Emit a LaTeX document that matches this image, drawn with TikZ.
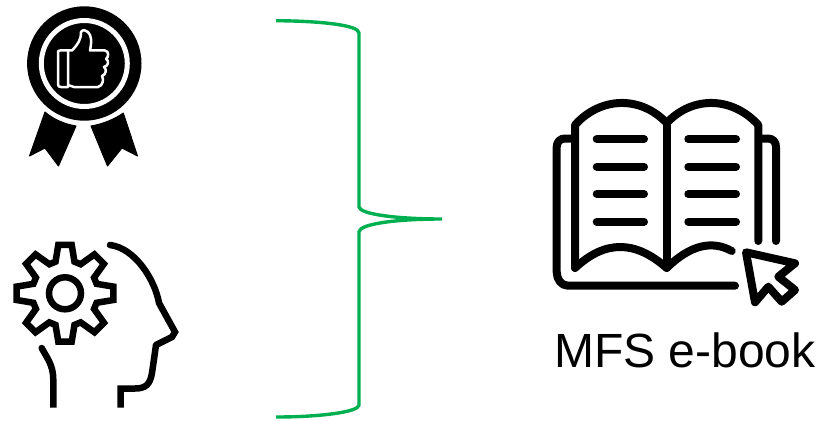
\documentclass[tikz,border=0pt]{standalone}
\usepackage{fontspec}
\setmainfont{Liberation Sans}
\definecolor{bracegreen}{HTML}{00B050}
\tikzset{
  bracecurve/.style={draw=bracegreen,line width=3.4pt},
  iconline/.style={draw=black,line width=6.5pt,line join=miter},
  bookline/.style={draw=black,line width=8pt,line cap=round,line join=round},
  thumbline/.style={draw=white,line width=2.5pt,line join=round,line cap=round},
}
\begin{document}
\begin{tikzpicture}[x=1pt,y=-1pt]
\useasboundingbox (0,0) rectangle (818,420);
% brace
\draw[bracecurve] (276,20.7) .. controls (320,21) and (359,25) .. (359,33)
  -- (359,207) .. controls (360,214) and (395,219) .. (442,219)
  .. controls (395,219) and (360,224) .. (359,231.7)
  -- (359,405) .. controls (359,412) and (320,417) .. (276,417);
% medal
\fill (84.3,63.5) circle (57.2);
\draw[white,line width=5pt] (84.3,63.5) circle (43);
\fill[line join=round,draw=black,line width=1pt] (45,112) -- (29.5,156) -- (45,148) -- (58.5,166) -- (76,126) .. controls (64,124) and (53,119) .. (45,112) -- cycle;
\fill[line join=round,draw=black,line width=1pt] (123.3,113) -- (137.5,156) -- (122,148) -- (107.5,166) -- (91,126) .. controls (103,124) and (115,119) .. (123.3,113) -- cycle;
\draw[thumbline] (68,50.5) -- (60,50.5) .. controls (58,50.5) and (58,51) .. (58,53) -- (58,84) .. controls (58,86.5) and (59,87) .. (61,87) -- (68,87) -- cycle;
\draw[thumbline] (68,50.5) -- (72,50.5) .. controls (78,44) and (81,40) .. (81,32) .. controls (82,29) and (88,30) .. (90,35) .. controls (92,40) and (91,45) .. (90,50.5)
  -- (105,50.5) .. controls (109,51) and (109,57) .. (106,59) .. controls (109,60) and (109,66) .. (104,67) .. controls (107,69) and (106,75) .. (102,76) .. controls (104,79) and (103,86) .. (98,87) -- (74,87) -- (68,85);
% gear
\draw[iconline,shift={(65,293.3)}] (-16.7:33)
  \foreach \a in {0,45,...,315} {
    -- ({\a-16.7}:33) -- ({\a-7.9}:48.8) -- ({\a+7.9}:48.8) -- ({\a+16.7}:33)
  } -- cycle;
\draw[iconline] (65,293.3) circle (16);
% head
\draw[iconline,line cap=round] (110,245) .. controls (135,248) and (155,280) .. (159,303) -- (175,332) -- (172,337) -- (156,345);
\draw[iconline] (156,345) -- (152,373) .. controls (150,385) and (145,388.5) .. (135,388.5) -- (120.7,388.5) -- (120.7,407.5);
\draw[iconline,line cap=butt] (53.3,407.5) -- (53.3,380) .. controls (53.3,365) and (47,358) .. (41.7,348);
\fill (41.7,348) circle (3.25);
% book
\draw[bookline] (575,268) -- (575,125) .. controls (600,97) and (640,95) .. (666.7,123) .. controls (693,95) and (733,97) .. (758.3,125) -- (758.3,241);
\draw[bookline] (666.7,123) -- (666.7,268);
\draw[bookline] (575,268) .. controls (605,240) and (635,240) .. (666.7,268) .. controls (690,245) and (712,240) .. (731.7,251);
\draw[bookline] (571,138.5) -- (565,138.5) .. controls (560,138.5) and (556.7,142) .. (556.7,147) -- (556.7,272) .. controls (556.7,279) and (561,285.7) .. (568,285.7) -- (735,285.7);
\draw[bookline] (762,138.5) -- (768,138.5) .. controls (773,138.5) and (776,142) .. (776,147) -- (776,241);
\foreach \y in {139,166.7,194,221.7} {
  \draw[bookline] (596.7,\y) -- (644,\y);
  \draw[bookline] (688.3,\y) -- (736,\y);
}
\draw[bookline] (746,252.3) -- (795,263.3) -- (778.3,276.7) -- (795,290) -- (781.7,301.7) -- (768.3,286.7) -- (755,302.3) -- cycle;
% label
\node[anchor=base west,inner sep=0pt,font=\fontsize{48}{58}\selectfont] (label) at (554,367) {MFS e-book};
\end{tikzpicture}
\end{document}
